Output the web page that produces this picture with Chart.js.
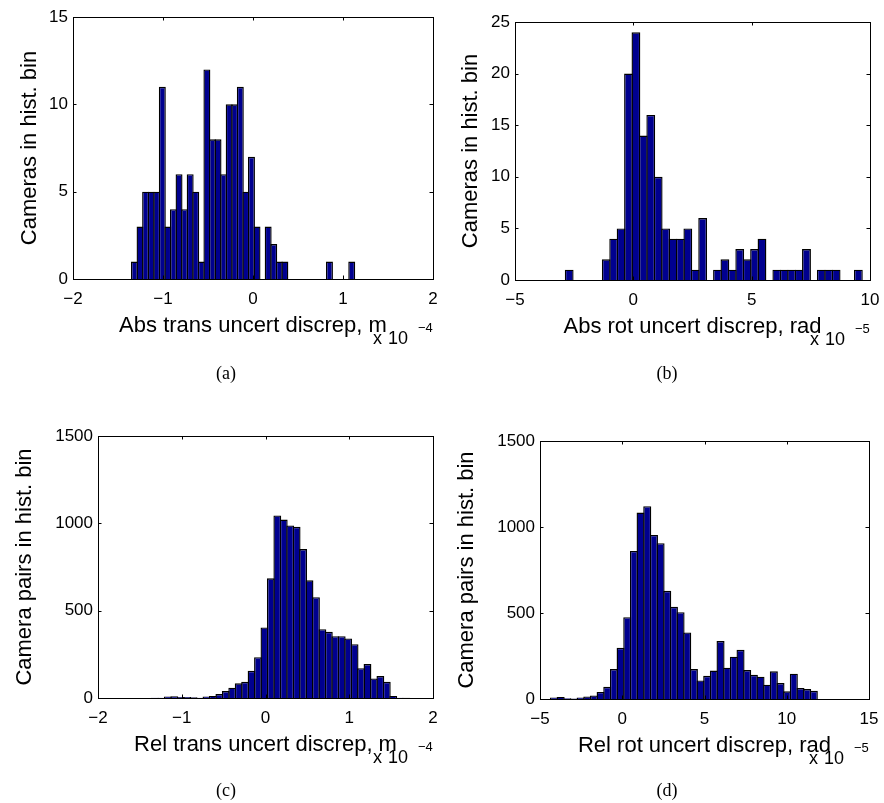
<!DOCTYPE html>
<html>
<head>
<meta charset="utf-8">
<script src="https://cdn.jsdelivr.net/npm/chart.js@4.4.0/dist/chart.umd.min.js"></script>
<style>
  body { margin: 0; background: #fff; }
  #fig { position: relative; width: 884px; height: 803px; overflow: hidden; }
  canvas { position: absolute; }
  .cap { position: absolute; width: 80px; text-align: center; line-height: 18px;
         font: 18px "Liberation Serif", "Times New Roman", serif; color: #000; }
</style>
</head>
<body>
<div id="fig">
  <canvas id="ca" width="442" height="401" style="left:0;top:0"></canvas>
  <canvas id="cb" width="442" height="401" style="left:442px;top:0"></canvas>
  <canvas id="cc" width="442" height="402" style="left:0;top:401px"></canvas>
  <canvas id="cd" width="442" height="402" style="left:442px;top:401px"></canvas>
  <div class="cap" style="left:186px;top:363px">(a)</div>
  <div class="cap" style="left:627px;top:363px">(b)</div>
  <div class="cap" style="left:186px;top:780px">(c)</div>
  <div class="cap" style="left:627px;top:780px">(d)</div>
</div>
<script>
// histogram counts, 40 bins each (first bin centre + bin width)
const absTransStart = -1.317, absTransStep = 0.0619;
const absTransCounts = [1, 3, 5, 5, 5, 11, 3, 4, 6, 4, 6, 5, 1, 12, 8, 8, 6, 10, 10, 11,
  5, 7, 3, 0, 3, 2, 1, 1, 0, 0, 0, 0, 0, 0, 0, 1, 0, 0, 0, 1];

const absRotStart = -2.71, absRotStep = 0.3133;
const absRotCounts = [1, 0, 0, 0, 0, 2, 4, 5, 20, 24, 14, 16, 10, 5, 4, 4, 5, 1, 6, 0,
  1, 2, 1, 3, 2, 3, 4, 0, 1, 1, 1, 1, 3, 0, 1, 1, 1, 0, 0, 1];

const relTransStart = -1.32, relTransStep = 0.0769;
const relTransCounts = [2, 2, 8, 10, 6, 6, 4, 2, 8, 11, 23, 40, 59, 84, 93, 156, 234, 404, 685, 1045,
  1022, 988, 980, 853, 674, 577, 394, 379, 354, 354, 341, 308, 171, 194, 112, 126, 93, 11, 2, 1];

const relRotStart = -4.15, relRotStep = 0.405;
const relRotCounts = [8, 11, 5, 3, 8, 15, 21, 41, 71, 174, 298, 476, 861, 1084, 1121, 954, 906, 629, 536, 505,
  387, 174, 108, 135, 165, 337, 182, 246, 286, 168, 141, 130, 83, 161, 93, 45, 147, 64, 58, 48];

// axis ticks
const absTransXTicks = [-2, 2, 1];   // min, max, step
const absRotXTicks = [-5, 10, 5];
const relTransXTicks = [-2, 2, 1];
const relRotXTicks = [-5, 15, 5];
const absYTicks = [15, 5];           // max, step
const absRotYTicks = [25, 5];
const relYTicks = [1500, 500];

const FONT = '"Liberation Sans", Arial, Helvetica, sans-serif';
const NAVY = 'rgb(0,0,143)';
const EDGE = 1.4;

// MATLAB style box, inward ticks and the "x 10^n" multiplier
const matlabAxes = {
    id: "matlabAxes",
    afterDatasetsDraw(chart, args, opts) {
        const { ctx, chartArea: a } = chart;
        const x = chart.scales.x, y = chart.scales.y;
        ctx.save();
        ctx.strokeStyle = "#000";
        ctx.lineWidth = 1;
        ctx.beginPath();
        x.ticks.forEach(t => {
            const px = Math.round(x.getPixelForValue(t.value)) + 0.5;
            ctx.moveTo(px, a.bottom); ctx.lineTo(px, a.bottom - 3.5);
            ctx.moveTo(px, a.top); ctx.lineTo(px, a.top + 3.5);
        });
        y.ticks.forEach(t => {
            const py = Math.round(y.getPixelForValue(t.value)) + 0.5;
            ctx.moveTo(a.left, py); ctx.lineTo(a.left + 3.5, py);
            ctx.moveTo(a.right, py); ctx.lineTo(a.right - 3.5, py);
        });
        ctx.stroke();
        ctx.strokeRect(a.left + 0.5, a.top + 0.5, a.width, a.height);

        if (opts.exp) {
            ctx.fillStyle = "#000";
            ctx.textAlign = "left";
            ctx.textBaseline = "alphabetic";
            ctx.font = `18px ${FONT}`;
            ctx.fillText("x", a.right - 60, a.bottom + 65);
            ctx.fillText("10", a.right - 45, a.bottom + 65);
            ctx.font = `13px ${FONT}`;
            ctx.fillText(opts.exp, a.right - 15, a.bottom + 53);
        }
        ctx.restore();
    }
};

function minus(v) {
    return String(v).replace("-", "\u2212");
}

function makeHist(canvasId, box, start, step, counts, xTicks, yTicks, xTitle, yTitle, exp) {
    const canvas = document.getElementById(canvasId);
    const W = canvas.width, H = canvas.height;
    const points = counts.map((c, i) => ({ x: start + i * step, y: c }));
    // widen bars by the edge width so neighbouring edges share a single line
    const barPx = (box.R - box.L) / (xTicks[1] - xTicks[0]) * step;

    return new Chart(canvas, {
        type: "bar",
        data: {
            datasets: [{
                data: points,
                backgroundColor: NAVY,
                borderColor: "#000",
                borderWidth: EDGE,
                barPercentage: 1 + EDGE / barPx,
                categoryPercentage: 1
            }]
        },
        plugins: [matlabAxes],
        options: {
            responsive: false,
            animation: false,
            events: [],
            layout: { padding: { left: 0, top: box.T, right: W - box.R, bottom: 0 } },
            plugins: {
                legend: { display: false },
                tooltip: { enabled: false },
                matlabAxes: { exp: exp }
            },
            scales: {
                x: {
                    type: "linear",
                    offset: false,
                    min: xTicks[0],
                    max: xTicks[1],
                    grid: { display: false, drawTicks: true, tickLength: 10, offset: false },
                    border: { display: false },
                    ticks: {
                        stepSize: xTicks[2],
                        padding: 0,
                        color: "#000",
                        font: { family: FONT, size: 17 },
                        maxRotation: 0,
                        callback: v => minus(v)
                    },
                    title: {
                        display: true,
                        text: xTitle,
                        color: "#000",
                        font: { family: FONT, size: 22 },
                        padding: { top: 0, bottom: H - box.B - 47.4 - 13.2 }
                    },
                    afterFit: s => { s.height = H - box.B; }
                },
                y: {
                    min: 0,
                    max: yTicks[0],
                    grid: { display: false, drawTicks: true, tickLength: 5 },
                    border: { display: false },
                    ticks: {
                        stepSize: yTicks[1],
                        padding: 0,
                        color: "#000",
                        font: { family: FONT, size: 17 },
                        callback: v => minus(v)
                    },
                    title: {
                        display: true,
                        text: yTitle,
                        color: "#000",
                        font: { family: FONT, size: 22 },
                        padding: { top: box.yTitle - 13.2, bottom: 0 }
                    },
                    afterFit: s => { s.width = box.L; }
                }
            }
        }
    });
}

// plot boxes in canvas coordinates
makeHist("ca", { L: 73, T: 17, R: 433, B: 279, yTitle: 30 },
    absTransStart, absTransStep, absTransCounts, absTransXTicks, absYTicks,
    "Abs trans uncert discrep, m", "Cameras in hist. bin", "\u22124");

makeHist("cb", { L: 73, T: 22, R: 428, B: 280, yTitle: 29 },
    absRotStart, absRotStep, absRotCounts, absRotXTicks, absRotYTicks,
    "Abs rot uncert discrep, rad", "Cameras in hist. bin", "\u22125");

makeHist("cc", { L: 98, T: 35, R: 433, B: 297, yTitle: 25 },
    relTransStart, relTransStep, relTransCounts, relTransXTicks, relYTicks,
    "Rel trans uncert discrep, m", "Camera pairs in hist. bin", "\u22124");

makeHist("cd", { L: 98, T: 40, R: 427, B: 298, yTitle: 25 },
    relRotStart, relRotStep, relRotCounts, relRotXTicks, relYTicks,
    "Rel rot uncert discrep, rad", "Camera pairs in hist. bin", "\u22125");
</script>
</body>
</html>
